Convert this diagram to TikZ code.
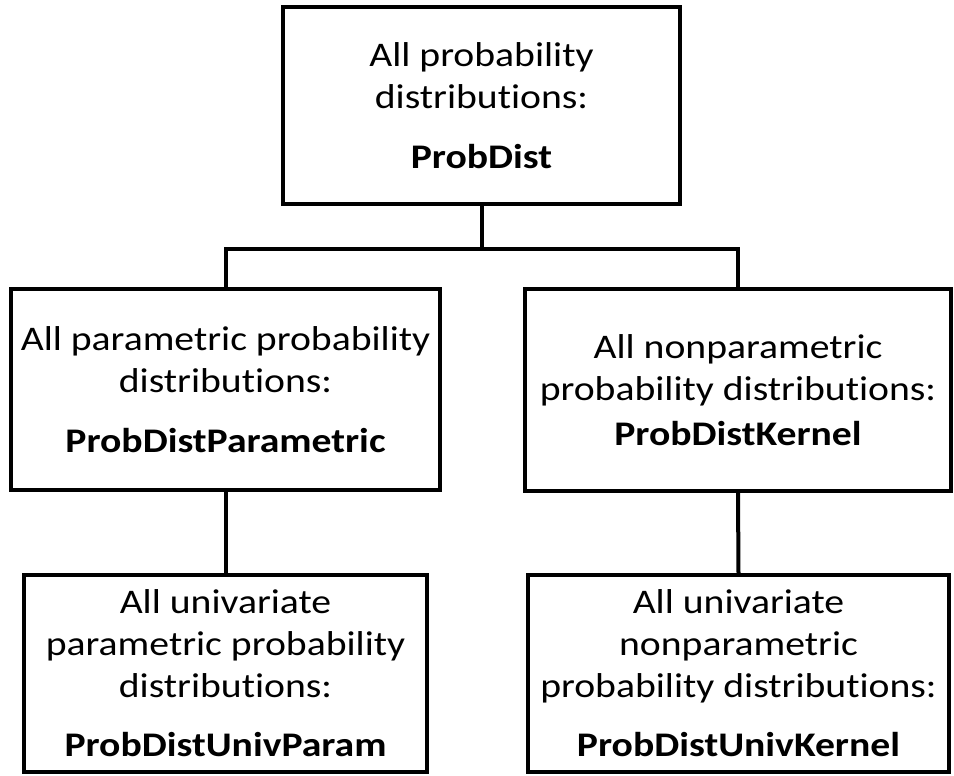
\documentclass[tikz,border=0pt]{standalone}
\usepackage{fontspec}
\setmainfont{Carlito}[FakeStretch=1.15, RawFeature={-liga;-clig;-dlig;-calt}]

\begin{document}
\begin{tikzpicture}[
    x=1pt, y=-1pt,
    every node/.style={font=\fontsize{34.5pt}{42pt}\selectfont, align=center, inner sep=0pt},
    distbox/.style={draw, line width=4pt, rectangle},
    link/.style={line width=4pt}
]

    \useasboundingbox (0,0) rectangle (954,776);

    % Draw the boxes
    \node[distbox, minimum width=397pt, minimum height=197pt] (all) at (481.5,105.5)
        {All probability\\ distributions:\\[18pt] \textbf{ProbDist}};
    \node[distbox, minimum width=429pt, minimum height=201pt] (param) at (225.5,389.5)
        {All parametric probability\\ distributions:\\[18pt] \textbf{ProbDistParametric}};
    \node[distbox, minimum width=426pt, minimum height=202pt] (kernel) at (738,390)
        {All nonparametric\\ probability distributions:\\[3pt] \textbf{ProbDistKernel}};
    \node[distbox, minimum width=403pt, minimum height=197pt] (univparam) at (225.5,673.5)
        {All univariate\\ parametric probability\\ distributions:\\[17pt] \textbf{ProbDistUnivParam}};
    \node[distbox, minimum width=421pt, minimum height=197pt] (univkernel) at (738.5,673.5)
        {All univariate\\ nonparametric\\ probability distributions:\\[17pt] \textbf{ProbDistUnivKernel}};

    % Draw the connectors
    \draw[link] (all.south) -- ++(0,43) coordinate (bus);
    \draw[link] (param.north) |- (bus) -| (kernel.north);
    \draw[link] (param.south) -- (univparam.north);
    \draw[link] (kernel.south) -- (univkernel.north);

\end{tikzpicture}
\end{document}
